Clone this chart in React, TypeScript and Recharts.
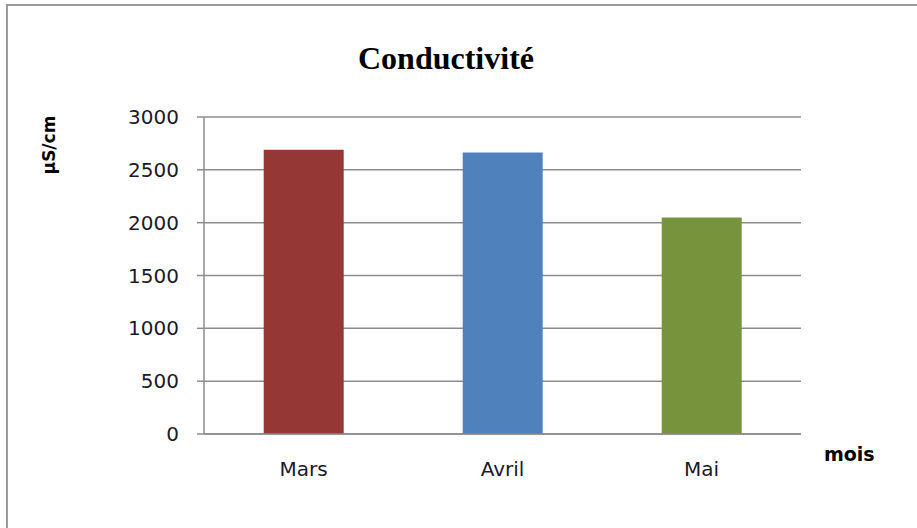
import { BarChart, Bar, XAxis, YAxis, CartesianGrid, Cell } from "recharts";

const months = ["Mars", "Avril", "Mai"];
const conductivity = [2690, 2665, 2050];
const barColors = ["#953735", "#4f81bd", "#77933c"];
const yTicks = [0, 500, 1000, 1500, 2000, 2500, 3000];

const data = months.map((mois, i) => ({ mois, value: conductivity[i] }));

const axisGray = "#8c8c8c";
const tickFont = { fontFamily: "DejaVu Sans", fontSize: 20, fill: "#1a1a2a" };

export default function App() {
  return (
    <div style={{ position: "fixed", left: 0, top: 0, width: 917, height: 528, overflow: "hidden", background: "#fff" }}>
      <div
        style={{
          position: "absolute",
          left: 6,
          top: 4,
          width: 930,
          height: 540,
          border: "2px solid #9a9a9a",
          boxSizing: "border-box",
        }}
      />
      <div
        style={{
          position: "absolute",
          left: 0,
          width: 892,
          top: 40,
          textAlign: "center",
          fontFamily: "Liberation Serif",
          fontWeight: "bold",
          fontSize: 32,
          color: "#000",
        }}
      >
        Conductivité
      </div>
      <div
        style={{
          position: "absolute",
          left: 49,
          top: 145,
          transform: "translate(-50%, -50%) rotate(-90deg)",
          fontFamily: "DejaVu Sans",
          fontWeight: "bold",
          fontSize: 17,
          whiteSpace: "nowrap",
          color: "#000",
        }}
      >
        µS/cm
      </div>
      <div
        style={{
          position: "absolute",
          left: 824,
          top: 443,
          fontFamily: "DejaVu Sans",
          fontWeight: "bold",
          fontSize: 19,
          color: "#000",
        }}
      >
        mois
      </div>
      <div style={{ position: "absolute", left: 0, top: 0 }}>
        <BarChart
          width={917}
          height={528}
          data={data}
          margin={{ top: 117, right: 116, bottom: 64, left: 144 }}
          barCategoryGap="30%"
        >
          <CartesianGrid vertical={false} stroke={axisGray} strokeWidth={1.5} />
          <XAxis
            dataKey="mois"
            tickLine={false}
            axisLine={{ stroke: axisGray, strokeWidth: 1.5 }}
            tick={tickFont}
            tickMargin={22}
          />
          <YAxis
            width={60}
            domain={[0, 3000]}
            ticks={yTicks}
            tickSize={7}
            tickMargin={18}
            tickLine={{ stroke: axisGray, strokeWidth: 1.5 }}
            axisLine={{ stroke: axisGray, strokeWidth: 1.5 }}
            tick={tickFont}
          />
          <Bar dataKey="value" isAnimationActive={false}>
            {data.map((d, i) => (
              <Cell key={d.mois} fill={barColors[i]} />
            ))}
          </Bar>
        </BarChart>
      </div>
    </div>
  );
}
